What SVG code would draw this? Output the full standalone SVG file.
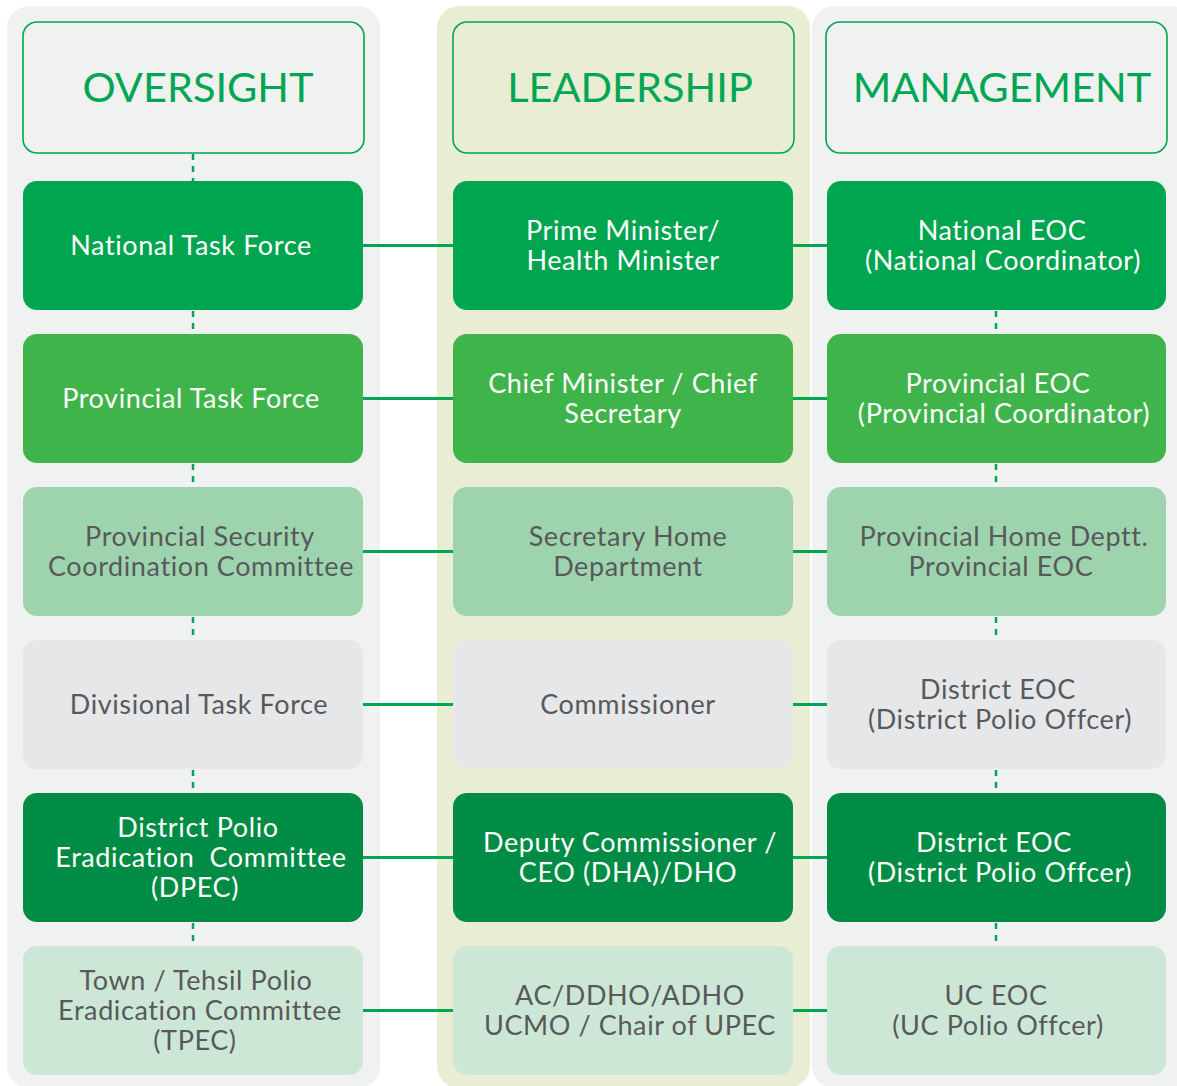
<svg xmlns="http://www.w3.org/2000/svg" width="1177" height="1086" viewBox="0 0 1177 1086">
<style>
.t{font-family:Lato,"Liberation Sans",sans-serif;font-size:27px;letter-spacing:0.6px;text-anchor:middle}
.w{fill:#ffffff}
.g{fill:#58595b}
.h{font-family:Lato,"Liberation Sans",sans-serif;font-size:41.5px;text-anchor:middle;fill:#00a651}
.hb{stroke:#00a651;stroke-width:1.6}
.c1{fill:#00a54f}
.c2{fill:#3fb44a}
.c3{fill:#9dd4ae}
.c4{fill:#e6e7e9}
.c5{fill:#008c44}
.c6{fill:#cce7d6}
.hl{stroke:#00a651;stroke-width:3;fill:none}
.dl{stroke:#00a651;stroke-width:2.5;stroke-dasharray:6 6;fill:none}
</style>
<rect width="1177" height="1086" fill="#ffffff"/>
<g id="columns">
<rect x="7" y="6" width="373" height="1082" rx="22" fill="#f0f1f1"/>
<rect x="437" y="6" width="373" height="1082" rx="22" fill="#e8edd3"/>
<rect x="812" y="6" width="380" height="1082" rx="22" fill="#f0f1f1"/>
</g>
<g id="connectors">
<path class="hl" d="M363 245.5H453M793 245.5H827M363 398.5H453M793 398.5H827M363 551.5H453M793 551.5H827M363 704.5H453M793 704.5H827M363 857.5H453M793 857.5H827M363 1010.5H453M793 1010.5H827"/>
<path class="dl" d="M193 154V181M193 311V334M193 464V487M193 617V640M193 770V793M193 923V946"/>
<path class="dl" d="M996 311V334M996 464V487M996 617V640M996 770V793M996 923V946"/>
</g>
<g id="header-oversight">
<rect class="hb" x="23" y="22" width="341" height="131" rx="14" fill="#f0f1f1"/>
<text class="h" x="198" y="102">OVERSIGHT</text>
</g>
<g id="header-leadership">
<rect class="hb" x="453" y="22" width="341" height="131" rx="14" fill="#e8edd3"/>
<text class="h" x="630" y="102">LEADERSHIP</text>
</g>
<g id="header-management">
<rect class="hb" x="826" y="22" width="341" height="131" rx="14" fill="#f0f1f1"/>
<text class="h" x="1002" y="102">MANAGEMENT</text>
</g>
<g id="n-national-task-force"><rect class="c1" x="23" y="181" width="340" height="129" rx="14"/><text class="t w" x="191" y="255">National Task Force</text></g>
<g id="n-prime-minister"><rect class="c1" x="453" y="181" width="340" height="129" rx="14"/><text class="t w" x="623" y="240">Prime Minister/</text><text class="t w" x="623" y="270">Health Minister</text></g>
<g id="n-national-eoc"><rect class="c1" x="827" y="181" width="339" height="129" rx="14"/><text class="t w" x="1002" y="240">National EOC</text><text class="t w" x="1003" y="270">(National Coordinator)</text></g>

<g id="n-provincial-task-force"><rect class="c2" x="23" y="334" width="340" height="129" rx="14"/><text class="t w" x="191" y="408">Provincial Task Force</text></g>
<g id="n-chief-minister"><rect class="c2" x="453" y="334" width="340" height="129" rx="14"/><text class="t w" x="623" y="393">Chief Minister / Chief</text><text class="t w" x="623" y="423">Secretary</text></g>
<g id="n-provincial-eoc"><rect class="c2" x="827" y="334" width="339" height="129" rx="14"/><text class="t w" x="998" y="393">Provincial EOC</text><text class="t w" x="1004" y="423">(Provincial Coordinator)</text></g>

<g id="n-pscc"><rect class="c3" x="23" y="487" width="340" height="129" rx="14"/><text class="t g" x="200" y="546">Provincial Security</text><text class="t g" x="201" y="576">Coordination Committee</text></g>
<g id="n-secretary-home"><rect class="c3" x="453" y="487" width="340" height="129" rx="14"/><text class="t g" x="628" y="546">Secretary Home</text><text class="t g" x="628" y="576">Department</text></g>
<g id="n-provincial-home"><rect class="c3" x="827" y="487" width="339" height="129" rx="14"/><text class="t g" x="1004" y="546">Provincial Home Deptt.</text><text class="t g" x="1001" y="576">Provincial EOC</text></g>

<g id="n-divisional-task-force"><rect class="c4" x="23" y="640" width="340" height="129" rx="14"/><text class="t g" x="199" y="714">Divisional Task Force</text></g>
<g id="n-commissioner"><rect class="c4" x="453" y="640" width="340" height="129" rx="14"/><text class="t g" x="628" y="714">Commissioner</text></g>
<g id="n-district-eoc-1"><rect class="c4" x="827" y="640" width="339" height="129" rx="14"/><text class="t g" x="998" y="699">District EOC</text><text class="t g" x="1000" y="729">(District Polio Offcer)</text></g>

<g id="n-dpec"><rect class="c5" x="23" y="793" width="340" height="129" rx="14"/><text class="t w" x="198" y="837">District Polio</text><text class="t w" x="201" y="867" xml:space="preserve">Eradication  Committee</text><text class="t w" x="195" y="897">(DPEC)</text></g>
<g id="n-deputy-commissioner"><rect class="c5" x="453" y="793" width="340" height="129" rx="14"/><text class="t w" x="630" y="852">Deputy Commissioner /</text><text class="t w" x="628" y="882">CEO (DHA)/DHO</text></g>
<g id="n-district-eoc-2"><rect class="c5" x="827" y="793" width="339" height="129" rx="14"/><text class="t w" x="994" y="852">District EOC</text><text class="t w" x="1000" y="882">(District Polio Offcer)</text></g>

<g id="n-tpec"><rect class="c6" x="23" y="946" width="340" height="129" rx="14"/><text class="t g" x="196" y="990">Town / Tehsil Polio</text><text class="t g" x="200" y="1020">Eradication Committee</text><text class="t g" x="195" y="1050">(TPEC)</text></g>
<g id="n-ac-ddho"><rect class="c6" x="453" y="946" width="340" height="129" rx="14"/><text class="t g" x="630" y="1005">AC/DDHO/ADHO</text><text class="t g" x="630" y="1035">UCMO / Chair of UPEC</text></g>
<g id="n-uc-eoc"><rect class="c6" x="827" y="946" width="339" height="129" rx="14"/><text class="t g" x="996" y="1005">UC EOC</text><text class="t g" x="998" y="1035">(UC Polio Offcer)</text></g>
</svg>
